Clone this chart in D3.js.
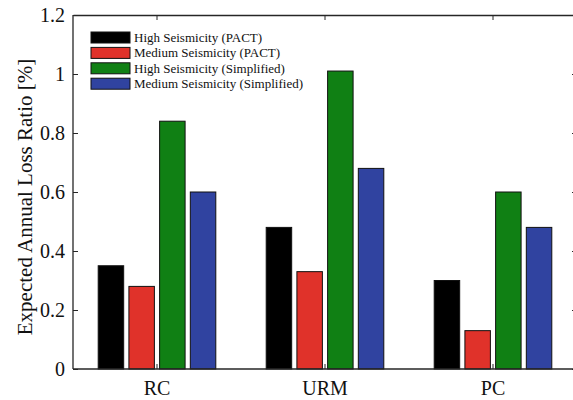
<!DOCTYPE html>
<html>
<head>
<meta charset="utf-8">
<script src="https://cdn.jsdelivr.net/npm/d3@7"></script>
<style>
  html, body { margin: 0; padding: 0; background: #fff; }
  svg text { font-family: "Liberation Serif", "Times New Roman", serif !important; }
</style>
</head>
<body>
<svg id="chart" width="573" height="400"></svg>
<script>
// chart data
const categories = ['RC', 'URM', 'PC'];
const seriesNames = [
  'High Seismicity (PACT)',
  'Medium Seismicity (PACT)',
  'High Seismicity (Simplified)',
  'Medium Seismicity (Simplified)'
];
const seriesColors = ['#000000', '#e0322a', '#108014', '#3043a0'];
const highPact = [0.35, 0.48, 0.30];
const medPact = [0.28, 0.33, 0.13];
const highSimp = [0.84, 1.01, 0.60];
const medSimp = [0.60, 0.68, 0.48];
const yTicks = [0, 0.2, 0.4, 0.6, 0.8, 1, 1.2];

const series = [highPact, medPact, highSimp, medSimp];

const svg = d3.select('#chart');
const plotL = 73, plotR = 577, plotT = 15, plotB = 369;

const y = d3.scaleLinear().domain([0, 1.2]).range([plotB, plotT]);
const x = d3.scaleBand().domain(categories).range([plotL, plotR]).paddingInner(0).paddingOuter(0);
const groupW = x.bandwidth() * 0.7;
const inner = d3.scaleBand().domain(d3.range(series.length)).range([0, groupW]).paddingInner(0.17);

// bars
series.forEach((vals, s) => {
  svg.append('g')
    .selectAll('rect')
    .data(vals)
    .join('rect')
    .attr('x', (d, i) => x(categories[i]) + (x.bandwidth() - groupW) / 2 + inner(s))
    .attr('y', d => y(d))
    .attr('width', inner.bandwidth())
    .attr('height', d => y(0) - y(d))
    .attr('fill', seriesColors[s])
    .attr('stroke', '#111')
    .attr('stroke-width', 1);
});

// axes
const axisColor = '#262626';
const yAxis = d3.axisLeft(y).tickValues(yTicks).tickSizeInner(-5).tickSizeOuter(0)
  .tickPadding(8).tickFormat(d3.format('~g'));
const gy = svg.append('g').attr('transform', `translate(${plotL},0)`).call(yAxis);
const gyr = svg.append('g').attr('transform', `translate(${plotR},0)`)
  .call(d3.axisRight(y).tickValues(yTicks).tickSizeInner(-5).tickSizeOuter(0).tickFormat(''));
const xAxis = d3.axisBottom(x).tickSizeInner(-5).tickSizeOuter(0).tickPadding(12);
const gx = svg.append('g').attr('transform', `translate(0,${plotB})`).call(xAxis);
const gxt = svg.append('g').attr('transform', `translate(0,${plotT})`)
  .call(d3.axisTop(x).tickSizeInner(-5).tickSizeOuter(0).tickFormat(''));

[gy, gyr, gx, gxt].forEach(g => {
  g.attr('font-family', null);
  g.select('.domain').attr('stroke', axisColor).attr('stroke-width', 1.3);
  g.selectAll('.tick line').attr('stroke', axisColor);
  g.selectAll('.tick text').attr('fill', '#111').style('font-size', '20px');
});
gy.select('.domain').attr('d', `M0,${plotT}V${plotB}`);
gx.select('.domain').attr('d', `M${plotL},0H${plotR}`);

// y title
svg.append('text')
  .attr('transform', `translate(32,197) rotate(-90)`)
  .attr('text-anchor', 'middle')
  .attr('fill', '#111')
  .style('font-size', '21px')
  .text('Expected Annual Loss Ratio [%]');

// legend
const legend = svg.append('g').attr('transform', 'translate(91,32)');
const rows = legend.selectAll('g').data(seriesNames).join('g')
  .attr('transform', (d, i) => `translate(0,${i * 15.4})`);
rows.append('rect')
  .attr('width', 39).attr('height', 11)
  .attr('fill', (d, i) => seriesColors[i])
  .attr('stroke', '#111').attr('stroke-width', 1);
rows.append('text')
  .attr('x', 43).attr('y', 10)
  .attr('fill', '#111')
  .style('font-size', '13px')
  .text(d => d);
</script>
</body>
</html>
